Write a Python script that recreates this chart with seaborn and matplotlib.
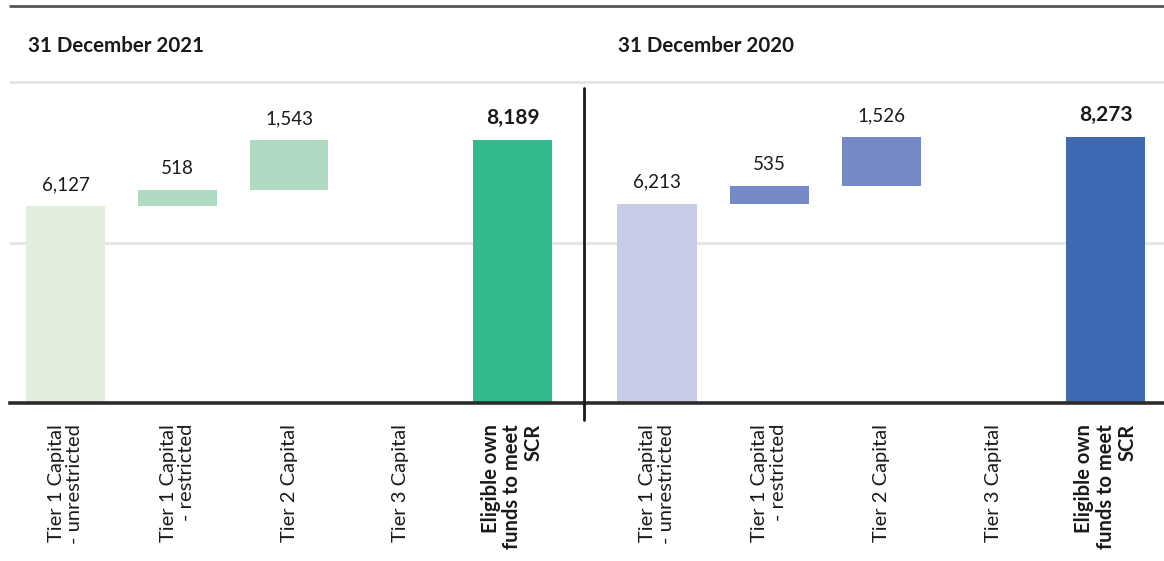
import numpy as np
import pandas as pd
import matplotlib
matplotlib.use("Agg")
import matplotlib.pyplot as plt
from matplotlib.lines import Line2D
import seaborn as sns

# ---- data ----
categories = ["Tier 1 Capital\n- unrestricted", "Tier 1 Capital\n- restricted",
              "Tier 2 Capital", "Tier 3 Capital", "Eligible own\nfunds to meet\nSCR"]
values_2021 = [6127, 518, 1543, 0, 8189]
values_2020 = [6213, 535, 1526, 0, 8273]
titles = ["31 December 2021", "31 December 2020"]
colors_2021 = ["#E2EEDC", "#B0D9C2", "#B0D9C2", "#B0D9C2", "#33B98B"]
colors_2020 = ["#C7CCE7", "#7489C5", "#7489C5", "#7489C5", "#3F69B3"]

sns.set_theme(style="white")
plt.rcParams["font.family"] = ["Lato", "DejaVu Sans"]

W, H = 1164, 561
fig = plt.figure(figsize=(W / 100, H / 100), dpi=100)

def px_ax(x0, x1, ytop, ybot):
    return fig.add_axes([x0 / W, (H - ybot) / H, (x1 - x0) / W, (ybot - ytop) / H])

panels = [
    (values_2021, colors_2021, titles[0], (10, 584), (-0.497, 4.64), 28),
    (values_2020, colors_2020, titles[1], (584, 1164), (-0.651, 4.52), 618),
]

for values, colors, title, (x0, x1), xlim, tx in panels:
    ax = px_ax(x0, x1, 82, 403)
    # waterfall bottoms: first and total from zero, middle steps stacked
    bottoms = [0.0]
    run = values[0]
    for v in values[1:-1]:
        bottoms.append(run)
        run += v
    bottoms.append(0.0)
    df = pd.DataFrame({"category": categories, "value": values})
    sns.barplot(data=df, x="category", y="value", order=categories, bottom=bottoms,
                color=colors[-1], saturation=1, width=0.705, errorbar=None, ax=ax,
                zorder=3, linewidth=0)
    for p, c in zip(ax.patches, colors):
        p.set_facecolor(c)
        p.set_edgecolor("none")
    # value labels
    for i, (v, b) in enumerate(zip(values, bottoms)):
        if v <= 0:
            continue
        bold = i == len(values) - 1
        ax.annotate(f"{v:,}", xy=(i, b + v), xytext=(0, 11.5), textcoords="offset points",
                    ha="center", va="baseline", fontsize=15 if bold else 13.5,
                    color="#1a1a1a", fontweight="bold" if bold else "normal")
    ax.set_ylim(0, 10000)
    ax.set_xlim(*xlim)
    for gy in (5000, 10000):
        ax.axhline(gy, color="#e3e3e3", lw=2, zorder=0, clip_on=False)
    for s in ("left", "right", "top"):
        ax.spines[s].set_visible(False)
    ax.spines["bottom"].set_color("#2b2b2b")
    ax.spines["bottom"].set_linewidth(2.6)
    ax.spines["bottom"].set_zorder(5)
    ax.set_yticks([])
    ax.set_xlabel("")
    ax.set_ylabel("")
    ax.set_xticks(range(len(categories)))
    ax.set_xticklabels(categories, rotation=90, ha="center", va="top",
                       multialignment="right", fontsize=14.5, color="#1a1a1a",
                       linespacing=1.1)
    ax.get_xticklabels()[-1].set_fontweight("bold")
    ax.tick_params(axis="x", length=0, pad=15)
    ax.set_facecolor("none")
    fig.text(tx / W, 1 - 46 / H, title, ha="left", va="center", fontsize=14.8,
             fontweight="bold", color="#1a1a1a")

fig.add_artist(Line2D([10 / W, 1.0], [1 - 6 / H] * 2, color="#555555", lw=2))
fig.add_artist(Line2D([584 / W] * 2, [1 - 88 / H, 1 - 420 / H], color="#1a1a1a", lw=2))

fig.savefig("out.png", dpi=100)
